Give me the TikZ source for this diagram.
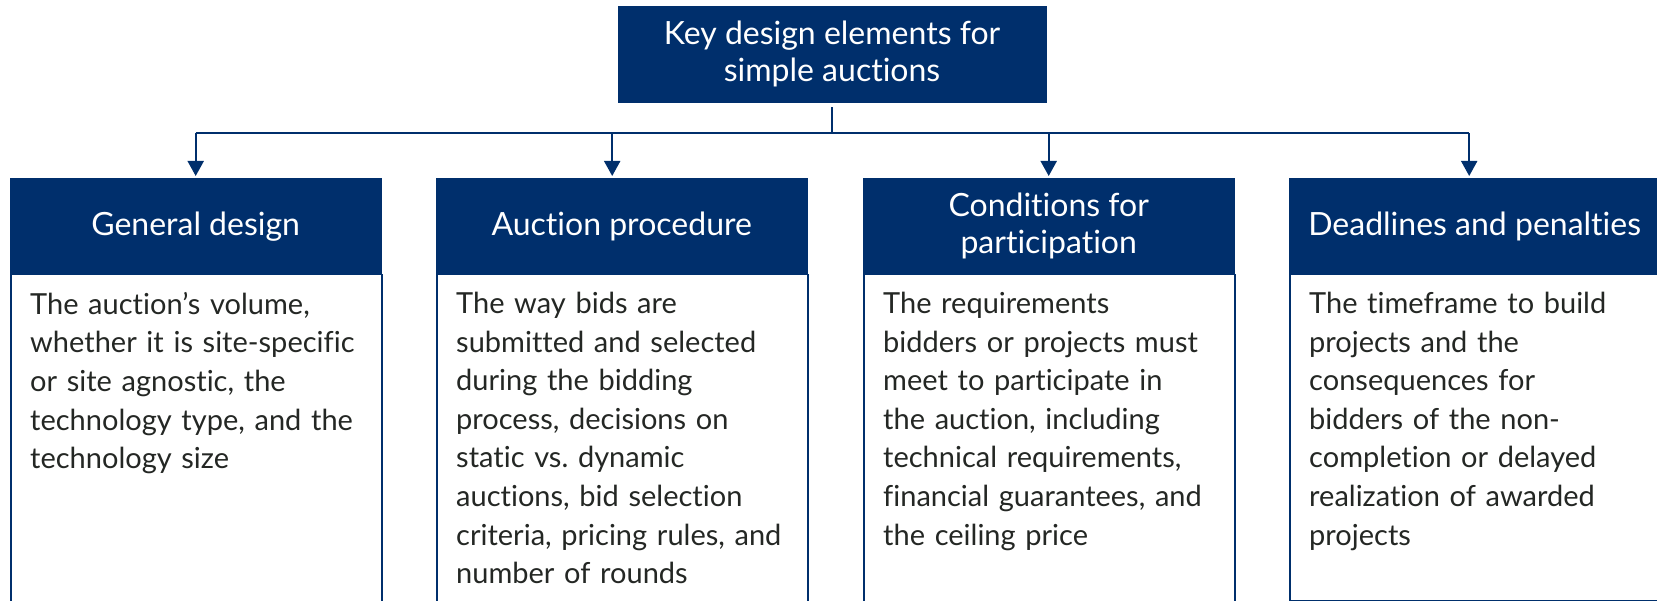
\documentclass[tikz,border=0pt]{standalone}
\usepackage{fontspec}
\setmainfont{Lato}[Ligatures={NoCommon}]
\usetikzlibrary{arrows.meta}
\definecolor{navy}{RGB}{0,47,108}
\definecolor{ink}{RGB}{36,39,36}
\begin{document}
\begin{tikzpicture}[x=1pt,y=-1pt,
  conn/.style={draw=navy,line width=2pt},
  tip/.style={conn,-{Triangle[width=16pt,length=15pt]}},
  topbox/.style={fill=navy,draw=navy,text=white,align=center,inner sep=0pt,
    minimum width=428pt,minimum height=96pt,font=\fontsize{32}{37.4}\selectfont},
  headbox/.style={fill=navy,draw=navy,text=white,align=center,inner sep=0pt,
    anchor=north west,minimum width=371pt,minimum height=96pt,
    font=\fontsize{32}{37}\selectfont},
  bodybox/.style={draw=navy,line width=1.5pt,anchor=north west,inner sep=0pt,
    minimum width=371pt},
  bodytext/.style={anchor=north west,inner sep=0pt,align=left,text=ink,
    text width=345pt,font=\fontsize{29}{38.6}\selectfont}]
\useasboundingbox (0,0) rectangle (1657,601);

% top element
\node[topbox] (top) at (832,54) {Key design elements for\\simple auctions};

% four columns: header bar and description box
\node[bodybox,minimum height=360pt] (b1) at (10,274) {};
\node[bodybox,minimum height=360pt] (b2) at (436,274) {};
\node[bodybox,minimum height=360pt] (b3) at (863,274) {};
\node[bodybox,minimum height=326pt] (b4) at (1289,274) {};

\node[headbox] (h1) at (10,178) {General design};
\node[headbox] (h2) at (436,178) {Auction procedure};
\node[headbox] (h3) at (863,178) {Conditions for\\participation};
\node[headbox] (h4) at (1289,178) {Deadlines and penalties};

\node[bodytext] (t1) at ([xshift=20pt,yshift=-18pt]b1.north west)
  {The auction’s volume,\\whether it is site-specific\\or site agnostic, the\\technology type, and the\\technology size};
\node[bodytext] (t2) at ([xshift=20pt,yshift=-18pt]b2.north west)
  {The way bids are\\submitted and selected\\during the bidding\\process, decisions on\\static vs.\ dynamic\\auctions, bid selection\\criteria, pricing rules, and\\number of rounds};
\node[bodytext] (t3) at ([xshift=20pt,yshift=-18pt]b3.north west)
  {The requirements\\bidders or projects must\\meet to participate in\\the auction, including\\technical requirements,\\financial guarantees, and\\the ceiling price};
\node[bodytext] (t4) at ([xshift=20pt,yshift=-18pt]b4.north west)
  {The timeframe to build\\projects and the\\consequences for\\bidders of the non-\\completion or delayed\\realization of awarded\\projects};

% connectors
\coordinate (bus) at (832,133);
\coordinate (a1) at (h1.north);
\coordinate (a2) at ([xshift=-9.5pt]h2.north);
\coordinate (a3) at (h3.north);
\coordinate (a4) at ([xshift=-5.5pt]h4.north);

\draw[conn] ([yshift=-5pt]top.south) -- (bus);
\draw[conn] (a1 |- bus) -- (a4 |- bus);
\foreach \k in {1,2,3,4}
  \draw[tip] (a\k |- bus) -- ([yshift=2pt]a\k);
\end{tikzpicture}
\end{document}
